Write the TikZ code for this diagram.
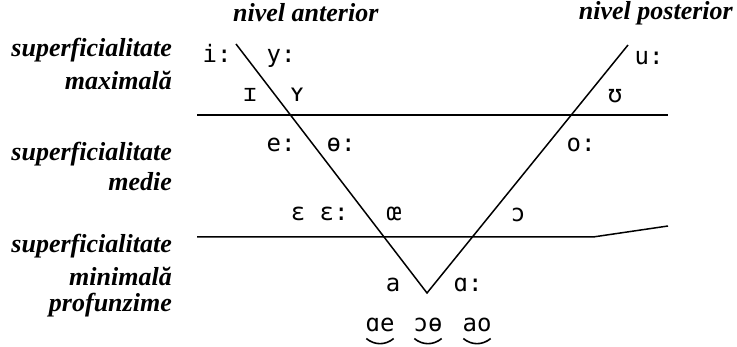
\documentclass[tikz,border=0pt]{standalone}
\usepackage{fontspec}
\setmainfont{Liberation Serif}
\newfontfamily\ipafont{DejaVu Sans Mono}
\usetikzlibrary{positioning,calc}

\begin{document}
\begin{tikzpicture}[
    x=1pt, y=-1pt,
    level/.style={
      anchor=east,
      inner sep=0pt,
      font=\fontsize{26}{27}\selectfont\bfseries\itshape
    },
    side/.style={
      inner sep=0pt,
      font=\fontsize{26}{27}\selectfont\bfseries\itshape
    },
    vowel/.style={
      anchor=base,
      inner sep=1pt,
      font=\fontsize{24}{25}\selectfont\ipafont
    },
    rule/.style={line width=1.5pt},
    tie/.style={line width=1.6pt, bend right=40}
  ]
    \useasboundingbox (0,0) rectangle (737,347);

    % the two slopes and the vertex
    \coordinate (frontTop) at (236,44);
    \coordinate (backTop) at (628,45);
    \coordinate (vertex) at (427,293);
    \draw[rule] (frontTop) -- (vertex) -- (backTop);

    % horizontal limits
    \draw[rule] (197,115) -- (668,115);
    \draw[rule] (197,237) -- (593,237) -- (668,226);

    % titles of the sides
    \node[side, anchor=west] (ant) at (233,13) {nivel anterior};
    \node[side, anchor=east] (post) at (733,13) {nivel posterior};

    % degrees on the left
    \node[level] (sup1) at (172,50) {superficialitate};
    \node[level] (max) at (172,80) {maximală};
    \node[level] (sup2) at (172,154) {superficialitate};
    \node[level] (med) at (172,182) {medie};
    \node[level] (sup3) at (172,246) {superficialitate};
    \node[level] (min) at (172,276) {minimală};
    \node[level] (prof) at (172,305) {profunzime};

    % vowels
    \node[vowel] (i) at (217,63) {i:};
    \node[vowel] (y) at (281,63) {y:};
    \node[vowel] (I) at (250,102) {ɪ};
    \node[vowel] (Y) at (297,102) {ʏ};
    \node[vowel] (u) at (649,65) {u:};
    \node[vowel] (U) at (615,103) {ʊ};
    \node[vowel] (e) at (281,152) {e:};
    \node[vowel] (oe) at (341,152) {ɵ:};
    \node[vowel] (o) at (581,152) {o:};
    \node[vowel] (E) at (298,221) {ɛ};
    \node[vowel] (EE) at (334,221) {ɛ:};
    \node[vowel] (OE) at (394,221) {œ};
    \node[vowel] (O) at (518,222) {ɔ};
    \node[vowel] (a) at (393,292) {a};
    \node[vowel] (A) at (468,292) {ɑ:};

    % diphthongs
    \node[vowel] (ae) at (380,332) {ɑe};
    \node[vowel] (oo) at (428,332) {ɔɵ};
    \node[vowel] (ao) at (477,332) {ao};
    \foreach \d in {ae,oo,ao}
      \draw[tie] ([xshift=2pt,yshift=-5pt]\d.south west) to ([xshift=-2pt,yshift=-5pt]\d.south east);
\end{tikzpicture}
\end{document}
